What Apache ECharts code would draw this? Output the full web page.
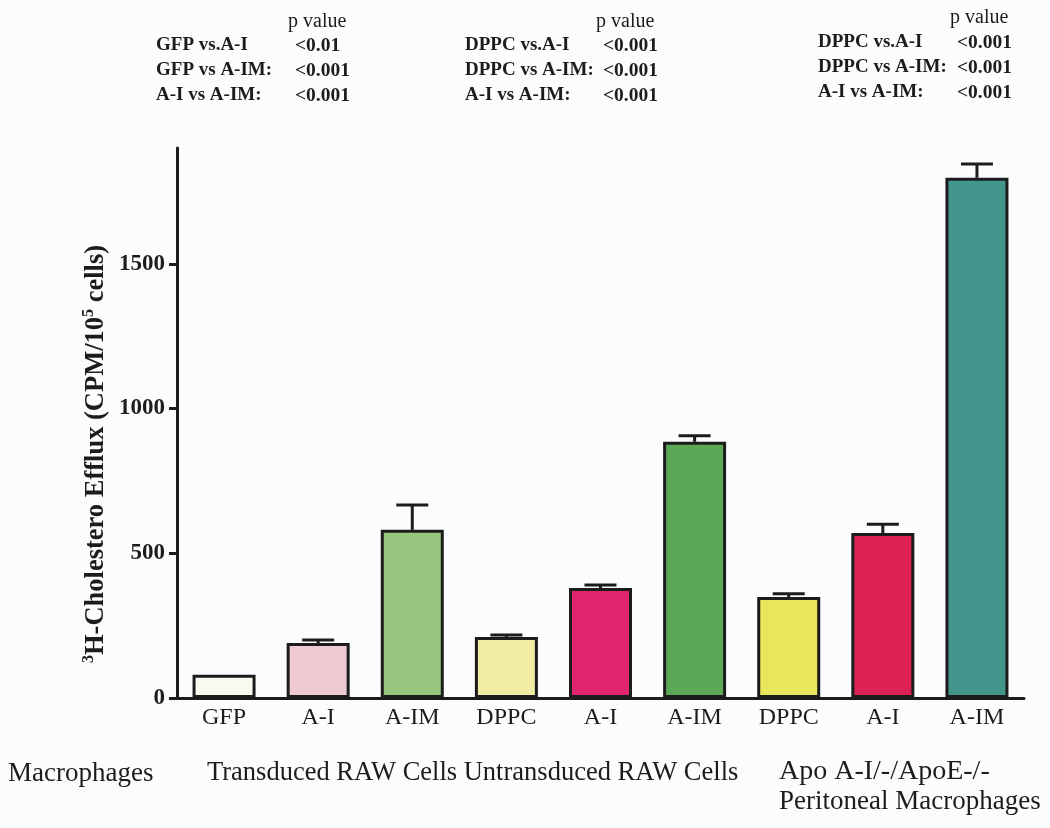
<!DOCTYPE html>
<html>
<head>
<meta charset="utf-8">
<script src="https://cdn.jsdelivr.net/npm/echarts@6/dist/echarts.min.js"></script>
<style>
html,body{margin:0;padding:0;background:#fafcfd;}
#chart{width:1050px;height:828px;}
</style>
</head>
<body>
<div id="chart"></div>
<script>
const categories = ['GFP', 'A-I', 'A-IM', 'DPPC', 'A-I', 'A-IM', 'DPPC', 'A-I', 'A-IM'];
const efflux = [80, 190, 581, 211, 380, 885, 349, 570, 1797];
const sem = [0, 10, 86, 7, 10, 21, 11, 30, 48];
const barColors = ['#fbfaf0', '#efc9d1', '#97c77f', '#f1eea3', '#e0246e', '#5ba857', '#e8e65c', '#dc2153', '#42968c'];
const yTicks = [0, 500, 1000, 1500];

const pBlocks = [
  { rows: ['GFP vs.A-I', 'GFP vs A-IM:', 'A-I vs A-IM:'], vals: ['<0.01', '<0.001', '<0.001'] },
  { rows: ['DPPC vs.A-I', 'DPPC vs A-IM:', 'A-I vs A-IM:'], vals: ['<0.001', '<0.001', '<0.001'] },
  { rows: ['DPPC vs.A-I', 'DPPC vs A-IM:', 'A-I vs A-IM:'], vals: ['<0.001', '<0.001', '<0.001'] }
];
const groupLabels = ['Macrophages', 'Transduced RAW Cells Untransduced RAW Cells', 'Apo A-I/-/ApoE-/-', 'Peritoneal Macrophages'];

const FONT = 'Liberation Serif';
const INK = '#1c1c1c';

const chart = echarts.init(document.getElementById('chart'), null, { renderer: 'canvas' });

const pLayout = [
  { lx: 156, vx: 295, px: 288, py: 12, y0: 33 },
  { lx: 465, vx: 603, px: 596, py: 12, y0: 33 },
  { lx: 818, vx: 957, px: 950, py: 8, y0: 30 }
];
const graphics = [];
pBlocks.forEach((b, i) => {
  const L = pLayout[i];
  graphics.push({ type: 'text', left: L.px, top: L.py, style: { text: 'p value', font: '20px "' + FONT + '"', fill: INK } });
  graphics.push({ type: 'text', left: L.lx, top: L.y0, style: { text: b.rows.join('\n'), font: 'bold 19px "' + FONT + '"', lineHeight: 25, fill: INK } });
  graphics.push({ type: 'text', left: L.vx, top: L.y0, style: { text: b.vals.join('\n'), font: 'bold 19.5px "' + FONT + '"', lineHeight: 25, fill: INK } });
});
graphics.push({ type: 'text', left: 8, top: 760, style: { text: groupLabels[0], font: '27px "' + FONT + '"', fill: INK } });
graphics.push({ type: 'text', left: 207, top: 760, style: { text: groupLabels[1], font: '26.5px "' + FONT + '"', fill: INK } });
graphics.push({ type: 'text', left: 779, top: 758, style: { text: groupLabels[2], font: '28px "' + FONT + '"', fill: INK } });
graphics.push({ type: 'text', left: 779, top: 788, style: { text: groupLabels[3], font: '27px "' + FONT + '"', fill: INK } });
graphics.push({
  type: 'text', x: 96, y: 454, rotation: Math.PI / 2,
  style: {
    text: '{s|3}{n|H-Cholestero Efflux (CPM/10}{s|5}{n| cells)}',
    align: 'center', verticalAlign: 'middle',
    rich: {
      n: { fontFamily: FONT, fontWeight: 'bold', fontSize: 26.5, lineHeight: 30, fill: INK, color: INK },
      s: { fontFamily: FONT, fontWeight: 'bold', fontSize: 16, lineHeight: 16, verticalAlign: 'top', fill: INK, color: INK }
    }
  }
});

const option = {
  backgroundColor: '#fafcfd',
  animation: false,
  grid: { left: 177, right: 26, top: 148, bottom: 130 },
  xAxis: {
    type: 'category',
    data: categories,
    axisLine: { lineStyle: { color: INK, width: 3 } },
    axisTick: { show: false },
    axisLabel: { color: INK, fontFamily: FONT, fontSize: 24, margin: 8 }
  },
  yAxis: {
    type: 'value',
    min: 0, max: 1900, interval: 500,
    axisLine: { show: true, lineStyle: { color: INK, width: 3 } },
    axisTick: { show: true, length: 8, lineStyle: { color: INK, width: 3 }, customValues: yTicks },
    axisLabel: { color: INK, fontFamily: FONT, fontWeight: 'bold', fontSize: 23, margin: 12, customValues: yTicks, formatter: v => String(v) },
    splitLine: { show: false }
  },
  graphic: graphics,
  series: [
    {
      type: 'bar',
      barWidth: 63,
      data: efflux.map((v, i) => ({ value: v, itemStyle: { color: barColors[i] } })),
      itemStyle: { borderColor: INK, borderWidth: 3 },
      z: 2
    },
    {
      type: 'custom',
      z: 3,
      data: efflux.map((v, i) => [i, v, v + sem[i]]),
      encode: { x: 0, y: [1, 2] },
      renderItem: function (params, api) {
        const lo = api.value(1), hi = api.value(2);
        if (hi <= lo) return null;
        const a = api.coord([api.value(0), lo]);
        const b = api.coord([api.value(0), hi]);
        const st = { stroke: INK, lineWidth: 3 };
        return {
          type: 'group',
          children: [
            { type: 'line', shape: { x1: a[0], y1: a[1], x2: b[0], y2: b[1] }, style: st },
            { type: 'line', shape: { x1: b[0] - 16, y1: b[1], x2: b[0] + 16, y2: b[1] }, style: st }
          ]
        };
      }
    }
  ]
};
chart.setOption(option);
</script>
</body>
</html>
